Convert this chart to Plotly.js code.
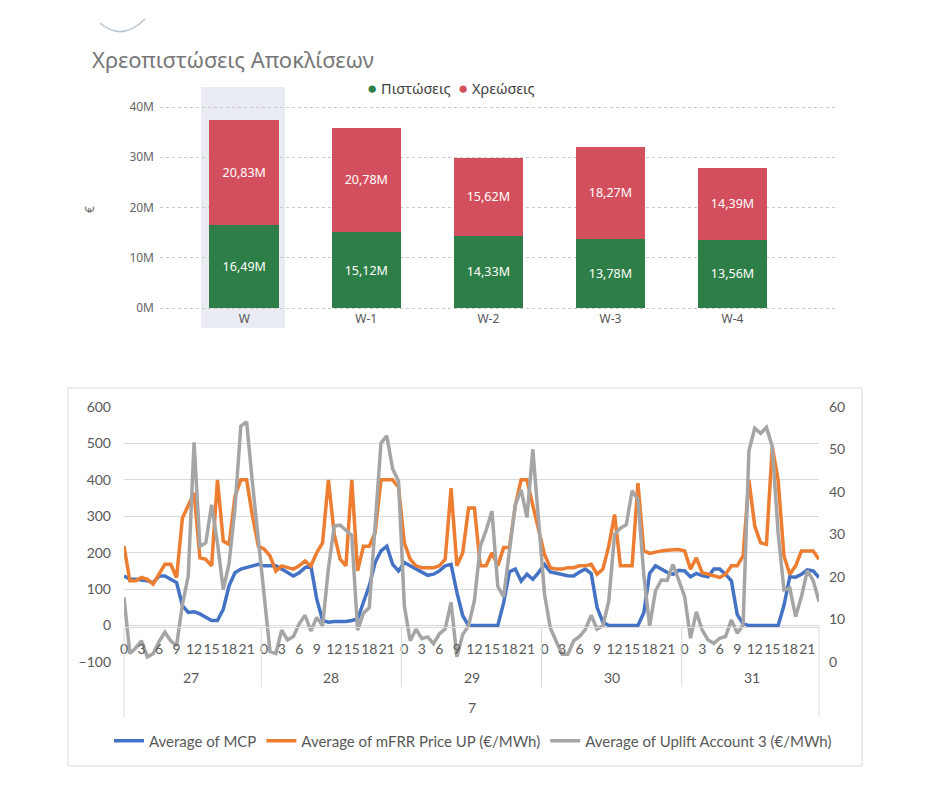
<!DOCTYPE html>
<html><head><meta charset="utf-8">
<script src="https://cdn.plot.ly/plotly-3.0.1.min.js"></script>
<style>html,body{margin:0;padding:0;background:#fff}#chart{width:944px;height:801px}</style>
</head><body><div id="chart"></div>
<script>
// ---- Top chart data ----
const weeks = ['W', 'W-1', 'W-2', 'W-3', 'W-4'];
const credits = [16.49, 15.12, 14.33, 13.78, 13.56];
const debits = [20.83, 20.78, 15.62, 18.27, 14.39];
const creditName = 'Πιστώσεις';
const debitName = 'Χρεώσεις';
const barTicks = [0, 10, 20, 30, 40];
const topTitle = 'Χρεοπιστώσεις Αποκλίσεων';

// ---- Bottom chart data ----
const month = '7';
const days = ['27', '28', '29', '30', '31'];
const hours = [0, 1, 2, 3, 4, 5, 6, 7, 8, 9, 10, 11, 12, 13, 14, 15, 16, 17, 18, 19, 20, 21, 22, 23];
const hourLabels = ['0', '3', '6', '9', '12', '15', '18', '21'];
const mcp = [
  136,127,127,125,123,118,136,136,127,118,55,36,38,32,23,14,14,45,110,145,155,159,165,168,
  164,164,164,155,145,136,145,159,164,73,14,9,11,11,11,14,18,64,109,173,205,218,168,150,
  173,164,155,145,138,141,150,164,168,91,27,0,0,0,0,0,0,62,148,155,122,141,127,146,
  168,147,143,139,137,136,147,155,143,50,9,0,0,0,0,0,0,35,143,164,155,146,141,152,
  150,134,143,137,134,155,155,141,123,30,5,0,0,0,0,0,0,55,134,133,141,153,150,132
];
const mfrr = [
  218,123,123,132,127,114,141,168,168,132,295,327,364,186,182,164,400,232,223,355,400,400,300,218,
  210,191,150,164,159,155,164,177,164,200,227,400,250,182,164,400,150,218,218,255,400,400,400,380,
  227,182,164,159,159,159,164,182,377,164,200,323,323,164,164,200,164,214,214,330,400,400,330,260,
  195,159,155,155,159,159,164,164,168,141,155,218,305,164,164,164,391,205,198,202,205,207,207,209,
  205,155,186,145,141,136,132,141,164,164,191,400,273,227,223,491,400,191,141,164,205,205,205,182
];
const uplift = [
  15.2,2.0,3.3,5,1.2,2,4.8,7,5,3.8,13.5,20.2,51.7,27.2,28,37,28,17,23.3,36.2,55.5,56.5,42,29,
  15,2.5,2,7.5,5.2,6,9,11,7.3,10.5,8.5,22,32,32.2,31,29.8,7.5,11.5,12.8,31.5,51.5,53.2,45.4,42.6,
  13.2,5,7.7,5.5,5.9,4.3,6.6,7.8,14,1.2,6.5,8.5,14.5,27.2,31,35.5,17.8,15.3,26.5,37,40.5,34,50,33.5,
  16,8,5,1.8,1.8,5,6,7.7,11,7.7,8.5,14.3,30,31.5,32.3,40.3,38.2,20.5,8.5,16.7,19.3,19.2,23,19.4,
  15.4,5.6,11.8,7.5,5.2,4.4,5.6,6,9.9,6.8,8.7,49.7,55,53.8,55.2,50.7,30.3,17,17.4,10.7,15.4,21.5,19.2,14.2
];
const seriesNames = ['Average of MCP', 'Average of mFRR Price UP (€/MWh)', 'Average of Uplift Account 3 (€/MWh)'];

// categories
const cats = [];
const tickv = [];
const tickt = [];
days.forEach(d => hours.forEach(h => {
  const c = d + '|' + h;
  cats.push(c);
  if (hourLabels.indexOf(String(h)) >= 0) { tickv.push(c); tickt.push(String(h)); }
}));

const W = 944, H = 801;
const px = v => v / W;
const py = v => 1 - v / H;

const GREEN = '#2e7f47', RED = '#d44f5d';
const topFont = 'Noto Sans, Open Sans, sans-serif';
const botFont = 'Lato, Liberation Sans, sans-serif';

const topPxPerUnit = (308 - 107) / 40;
const topPad = 0.4;
const botPxPerUnit = (662 - 407) / 700;
const botPad = 1.5;
const y2r = [-100 - botPad, 600 + botPad];
const y3r = y2r.map(v => (v + 100) * 60 / 700);

const traces = [
  { type: 'bar', x: weeks, y: credits, name: creditName, xaxis: 'x', yaxis: 'y',
    marker: { color: GREEN }, texttemplate: '%{y:.2f}M', textposition: 'inside',
    insidetextanchor: 'middle', textangle: 0, constraintext: 'none',
    textfont: { color: '#ffffff', size: 12.5, family: topFont }, showlegend: false, hoverinfo: 'skip' },
  { type: 'bar', x: weeks, y: debits, name: debitName, xaxis: 'x', yaxis: 'y',
    marker: { color: RED }, texttemplate: '%{y:.2f}M', textposition: 'inside',
    insidetextanchor: 'middle', textangle: 0, constraintext: 'none',
    textfont: { color: '#ffffff', size: 12.5, family: topFont }, showlegend: false, hoverinfo: 'skip' },
  { type: 'scatter', mode: 'lines', x: cats, y: mcp, name: seriesNames[0], xaxis: 'x2', yaxis: 'y2',
    line: { color: '#4472c4', width: 3.5 } },
  { type: 'scatter', mode: 'lines', x: cats, y: mfrr, name: seriesNames[1], xaxis: 'x2', yaxis: 'y2',
    line: { color: '#ed7d31', width: 3.5 } },
  { type: 'scatter', mode: 'lines', x: cats, y: uplift, name: seriesNames[2], xaxis: 'x2', yaxis: 'y3',
    line: { color: '#a5a5a5', width: 3.5 } }
];

const shapes = [
  { type: 'rect', xref: 'paper', yref: 'paper', x0: px(201), x1: px(285), y0: py(328), y1: py(87),
    fillcolor: '#e9edf3', line: { width: 0 }, layer: 'below' },
  { type: 'rect', xref: 'paper', yref: 'paper', x0: px(68), x1: px(862), y0: py(766), y1: py(388),
    line: { color: '#d9d9d9', width: 1 }, fillcolor: 'rgba(0,0,0,0)', layer: 'below' },
  { type: 'line', xref: 'x2 domain', yref: 'paper', x0: 0, x1: 0, y0: py(717), y1: py(627),
    line: { color: '#d9d9d9', width: 1 } },
  { type: 'line', xref: 'x2 domain', yref: 'paper', x0: 1, x1: 1, y0: py(717), y1: py(627),
    line: { color: '#d9d9d9', width: 1 } },
  { type: 'path', xref: 'paper', yref: 'paper',
    path: `M ${px(100)} ${py(23)} Q ${px(122)} ${py(42)} ${px(145)} ${py(19)}`,
    line: { color: '#b9c4cf', width: 1.5 } }
];
for (let k = 1; k < days.length; k++) {
  shapes.push({ type: 'line', xref: 'x2', yref: 'paper', x0: k * hours.length - 0.5, x1: k * hours.length - 0.5,
    y0: py(687), y1: py(627), line: { color: '#d9d9d9', width: 1 } });
}

const dot = c => `<span style="color:${c};font-size:17px">●</span>`;
const annotations = [
  { xref: 'paper', yref: 'paper', x: px(365), y: py(87), xanchor: 'left', yanchor: 'middle', showarrow: false,
    text: `${dot(GREEN)} ${creditName}  ${dot(RED)} ${debitName}`,
    font: { family: topFont, size: 14.5, color: '#404040' } },
  { xref: 'paper', yref: 'paper', x: px(90), y: py(210), xanchor: 'center', yanchor: 'middle', showarrow: false,
    text: '€', textangle: -90, font: { family: topFont, size: 12, color: '#666666' } },
  { xref: 'x2', yref: 'paper', x: (days.length * hours.length) / 2 - 0.5, y: py(707), xanchor: 'center', yanchor: 'middle',
    showarrow: false, text: month, font: { family: botFont, size: 14, color: '#595959' } }
];
days.forEach((d, k) => {
  annotations.push({ xref: 'x2', yref: 'paper', x: k * hours.length + hours.length / 2 - 0.5, y: py(677),
    xanchor: 'center', yanchor: 'middle', showarrow: false, text: d,
    font: { family: botFont, size: 14, color: '#595959' } });
});

const layout = {
  width: W, height: H,
  margin: { l: 0, r: 0, t: 0, b: 0 },
  paper_bgcolor: '#ffffff', plot_bgcolor: 'rgba(0,0,0,0)',
  separators: ',.',
  barmode: 'stack', bargap: 0.43,
  title: { text: topTitle, x: px(92), xanchor: 'left', y: py(60), yanchor: 'middle',
    font: { family: topFont, size: 22, color: '#777777' } },
  showlegend: true,
  legend: { orientation: 'h', traceorder: 'normal', x: px(473), xanchor: 'center', y: py(741), yanchor: 'middle',
    font: { family: botFont, size: 15, color: '#595959' }, bgcolor: 'rgba(0,0,0,0)' },
  xaxis: { domain: [px(160), px(835)], anchor: 'y', type: 'category', range: [-0.69, 4.84],
    showgrid: false, showline: false, zeroline: false, ticks: '', fixedrange: true,
    tickfont: { family: topFont, size: 12, color: '#555555' } },
  yaxis: { domain: [py(308 + topPad * topPxPerUnit), py(107 - topPad * topPxPerUnit)], anchor: 'x',
    range: [-topPad, 40 + topPad], tickmode: 'array', tickvals: barTicks, ticktext: barTicks.map(v => v + 'M'),
    showgrid: true, gridcolor: '#c9c9c9', griddash: 'dot', gridwidth: 1, zeroline: false, showline: false,
    ticklabelstandoff: 5, fixedrange: true,
    tickfont: { family: topFont, size: 12, color: '#666666' } },
  xaxis2: { domain: [px(124), px(819)], anchor: 'free', position: py(627), type: 'category',
    tickmode: 'array', tickvals: tickv, ticktext: tickt, tickangle: 0,
    showgrid: false, showline: true, linecolor: '#d9d9d9', linewidth: 1, ticks: '', zeroline: false,
    ticklabelstandoff: 9, fixedrange: true,
    tickfont: { family: botFont, size: 14, color: '#595959' } },
  yaxis2: { domain: [py(662 + botPad * botPxPerUnit), py(407 - botPad * botPxPerUnit)], anchor: 'x2',
    range: y2r, tick0: 0, dtick: 100,
    showgrid: true, gridcolor: '#d9d9d9', gridwidth: 1, zeroline: true, zerolinecolor: '#d9d9d9', zerolinewidth: 1,
    showline: false, ticklabelstandoff: 12, fixedrange: true,
    tickfont: { family: botFont, size: 14, color: '#595959' } },
  yaxis3: { overlaying: 'y2', side: 'right', anchor: 'x2', range: y3r, tick0: 0, dtick: 10,
    showgrid: false, zeroline: false, showline: false, ticklabelstandoff: 9, fixedrange: true,
    tickfont: { family: botFont, size: 14, color: '#595959' } },
  shapes: shapes,
  annotations: annotations
};

Plotly.newPlot('chart', traces, layout, { displayModeBar: false, staticPlot: true });
</script>
</body></html>
